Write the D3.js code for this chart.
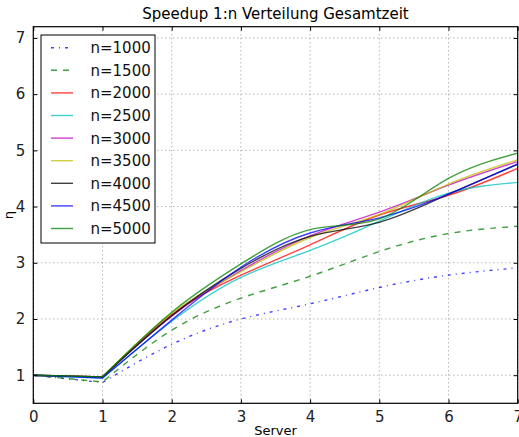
<!DOCTYPE html>
<html>
<head>
<meta charset="utf-8">
<script src="https://cdn.jsdelivr.net/npm/d3@7"></script>
<style>
  body { margin: 0; background: #fff; }
  svg { display: block; font-family: "DejaVu Sans", sans-serif; }
</style>
</head>
<body>
<div id="chart"></div>
<script>
// servers 0..7, speedup per problem size n
const servers = [0, 1, 2, 3, 4, 5, 6, 7];
const labels = ["n=1000", "n=1500", "n=2000", "n=2500", "n=3000", "n=3500", "n=4000", "n=4500", "n=5000"];
const n1000 = [1.0, 0.87, 1.55, 2.0, 2.27, 2.56, 2.78, 2.91];
const n1500 = [1.0, 0.88, 1.8, 2.37, 2.76, 3.2, 3.52, 3.65];
const n2000 = [1.0, 0.97, 2.08, 2.78, 3.32, 3.85, 4.2, 4.68];
const n2500 = [1.0, 0.95, 1.96, 2.74, 3.22, 3.74, 4.24, 4.43];
const n3000 = [1.0, 0.97, 2.05, 2.86, 3.48, 3.9, 4.38, 4.8];
const n3500 = [1.0, 0.97, 2.1, 2.84, 3.45, 3.86, 4.4, 4.83];
const n4000 = [1.0, 0.97, 2.06, 2.9, 3.47, 3.72, 4.22, 4.75];
const n4500 = [1.0, 0.95, 1.98, 2.92, 3.53, 3.8, 4.22, 4.76];
const n5000 = [1.0, 0.97, 2.12, 2.98, 3.59, 3.78, 4.5, 4.95];
const xTicks = [0, 1, 2, 3, 4, 5, 6, 7];
const yTicks = [1, 2, 3, 4, 5, 6, 7];

const seriesValues = [n1000, n1500, n2000, n2500, n3000, n3500, n4000, n4500, n5000];
const colors = ["#0000ff", "#008000", "#ff0000", "#00bfbf", "#bf00bf", "#bfbf00", "#000000", "#0000ff", "#008000"];
const dashes = ["3,5,1,5", "6,6", null, null, null, null, null, null, null];

const width = 519, height = 437;
const margin = { left: 33.3, right: 1.3, top: 26.7, bottom: 33.7 };

const svg = d3.select("#chart").append("svg")
  .attr("width", width)
  .attr("height", height);

const x = d3.scaleLinear().domain([0, 7]).range([margin.left, width - margin.right]);
const y = d3.scaleLinear().domain([0.5, 7.2]).range([height - margin.bottom, margin.top]);

// grid
const grid = svg.append("g")
  .attr("stroke", "#777")
  .attr("stroke-width", 0.8)
  .attr("stroke-dasharray", "1,3");
grid.selectAll(".gx").data(xTicks).join("line")
  .attr("x1", d => x(d)).attr("x2", d => x(d))
  .attr("y1", y.range()[0]).attr("y2", y.range()[1]);
grid.selectAll(".gy").data(yTicks).join("line")
  .attr("y1", d => y(d)).attr("y2", d => y(d))
  .attr("x1", x.range()[0]).attr("x2", x.range()[1]);

// lines: straight from 0 to 1, spline from 1 on
const linear = d3.line().x(d => x(d[0])).y(d => y(d[1]));
const smooth = d3.line().x(d => x(d[0])).y(d => y(d[1])).curve(d3.curveNatural);

const lines = svg.append("g").attr("fill", "none");
seriesValues.forEach((vals, i) => {
  const pts = servers.map((s, j) => [s, vals[j]]);
  const dStr = linear(pts.slice(0, 2)) + smooth(pts.slice(1)).replace(/^M[^C]*/, m => "L" + m.slice(1));
  lines.append("path")
    .attr("d", dStr)
    .attr("stroke", colors[i])
    .attr("stroke-opacity", 0.75)
    .attr("stroke-width", 1.4)
    .attr("stroke-dasharray", dashes[i]);
});

// frame with inward ticks
const axB = d3.axisBottom(x).tickValues(xTicks).tickSizeInner(-4).tickSizeOuter(0).tickPadding(8).tickFormat(d3.format("d"));
const axT = d3.axisTop(x).tickValues(xTicks).tickSizeInner(-4).tickSizeOuter(0).tickFormat("");
const axL = d3.axisLeft(y).tickValues(yTicks).tickSizeInner(-4).tickSizeOuter(0).tickPadding(8).tickFormat(d3.format("d"));
const axR = d3.axisRight(y).tickValues(yTicks).tickSizeInner(-4).tickSizeOuter(0).tickFormat("");

function styleAxis(g) {
  g.select(".domain").remove();
  g.selectAll("text").attr("font-family", "DejaVu Sans").attr("font-size", 15).attr("fill", "#222");
  g.selectAll("line").attr("stroke", "#000");
}
svg.append("g").attr("transform", `translate(0,${y.range()[0]})`).call(axB).call(styleAxis);
svg.append("g").attr("transform", `translate(0,${y.range()[1]})`).call(axT).call(styleAxis);
svg.append("g").attr("transform", `translate(${x.range()[0]},0)`).call(axL).call(styleAxis);
svg.append("g").attr("transform", `translate(${x.range()[1]},0)`).call(axR).call(styleAxis);

svg.append("rect")
  .attr("x", x.range()[0]).attr("y", y.range()[1])
  .attr("width", x.range()[1] - x.range()[0])
  .attr("height", y.range()[0] - y.range()[1])
  .attr("fill", "none")
  .attr("stroke", "#000")
  .attr("stroke-width", 1.2);

// titles
svg.append("text")
  .attr("x", (x.range()[0] + x.range()[1]) / 2)
  .attr("y", 19)
  .attr("text-anchor", "middle")
  .attr("font-size", 15)
  .text("Speedup 1:n Verteilung Gesamtzeit");

svg.append("text")
  .attr("x", (x.range()[0] + x.range()[1]) / 2)
  .attr("y", 435)
  .attr("text-anchor", "middle")
  .attr("font-size", 13)
  .text("Server");

svg.append("text")
  .attr("transform", `translate(13,${(y.range()[0] + y.range()[1]) / 2}) rotate(-90)`)
  .attr("text-anchor", "middle")
  .attr("font-size", 13)
  .text("η");

// legend
const legend = svg.append("g").attr("transform", "translate(41,35)");
legend.append("rect")
  .attr("width", 114).attr("height", 208)
  .attr("fill", "#fff")
  .attr("stroke", "#000")
  .attr("stroke-width", 1);
const item = legend.selectAll(".item").data(labels).join("g")
  .attr("transform", (d, i) => `translate(0,${12.7 + i * 22.6})`);
item.append("line")
  .attr("x1", 10).attr("x2", 32)
  .attr("stroke", (d, i) => colors[i])
  .attr("stroke-opacity", 0.75)
  .attr("stroke-width", 1.4)
  .attr("stroke-dasharray", (d, i) => dashes[i]);
item.append("text")
  .attr("x", 49.5)
  .attr("dy", "0.36em")
  .attr("font-size", 15)
  .attr("fill", "#111")
  .text(d => d);
</script>
</body>
</html>
